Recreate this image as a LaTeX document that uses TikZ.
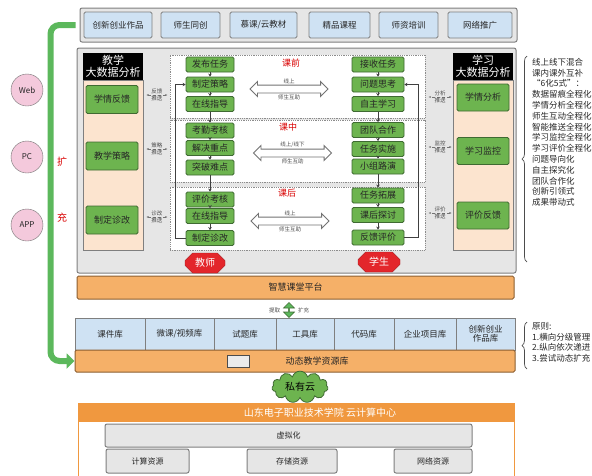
\documentclass[tikz,border=0pt]{standalone}
\usepackage{fontspec}
\setmainfont{Noto Sans CJK SC}
\usetikzlibrary{arrows.meta,calc,shapes.geometric,shapes.misc,shapes.arrows,shapes.symbols,decorations.pathreplacing}
\definecolor{panelgrey}{HTML}{E6E6E6}
\definecolor{edgegrey}{HTML}{7F7F7F}
\definecolor{tileblue}{HTML}{CFE2F3}
\definecolor{leafgreen}{HTML}{6DB44F}
\definecolor{leafedge}{HTML}{3F6A32}
\definecolor{peach}{HTML}{FCE4CF}
\definecolor{barorange}{HTML}{F5B068}
\definecolor{baredge}{HTML}{8C5E30}
\definecolor{headorange}{HTML}{F0983F}
\definecolor{hexred}{HTML}{E3262B}
\definecolor{dotpink}{HTML}{F4C9DC}
\definecolor{pipegreen}{HTML}{5CB85C}
\newcommand{\fs}[1]{\fontsize{#1}{#1}\selectfont}
\tikzset{
  pl/.style={align=center, inner sep=0pt, font=\fs{9}, text=black!85},
  pl frame/.style={pl, draw=edgegrey, fill=panelgrey, line width=1pt, rounded corners=2pt},
  pl tile/.style={pl, draw=edgegrey, fill=tileblue, line width=0.8pt, rounded corners=1.5pt, font=\fs{8.5}},
  pl leaf/.style={pl, draw=leafedge, fill=leafgreen, line width=0.8pt, rounded corners=1.5pt},
  pl task/.style={pl leaf, minimum height=15},
  pl stage/.style={draw=black!45, densely dotted, fill=white, line width=0.8pt},
  pl head/.style={pl, fill=black, text=white, font=\fontsize{11}{12.5}\selectfont},
  pl soft/.style={fill=peach, draw=edgegrey, line width=0.8pt},
  pl bar/.style={pl, draw=baredge, fill=barorange, line width=1pt, rounded corners=1.5pt},
  pl hex/.style={pl, chamfered rectangle, chamfered rectangle xsep=4pt, draw=hexred!70!black, fill=hexred, text=white, font=\fs{10}},
  pl hollow/.style={double arrow, draw=black!55, fill=white, line width=0.9pt, double arrow head extend=3.5pt, inner xsep=0pt, inner ysep=3.5pt},
  pl flow/.style={-{Stealth[length=3pt,width=3.5pt]}, line width=0.8pt, black!75},
  pl push/.style={{Stealth[length=2.5pt]}-{Stealth[length=2.5pt]}, densely dashed, line width=0.7pt, black!55},
  pl tiny/.style={font=\fs{5.5}, inner sep=0.8pt, text=black!70},
  pl red/.style={font=\fs{9}, text=red!85!black},
  pl note/.style={font=\fontsize{8.5}{10.8}\selectfont, align=left, inner sep=0pt, anchor=north west, text=black!85},
  pl brace/.style={decorate, decoration={brace, amplitude=5pt}, line width=0.7pt, black!70},
  pl pipe/.style={line width=6pt, pipegreen, rounded corners=9pt, -{Triangle[length=8pt,width=15pt]}},
}
\begin{document}
\begin{tikzpicture}[x=1pt, y=-1pt]
  \useasboundingbox (0,0) rectangle (592,475);
  % top: outcomes
  \node[pl frame, minimum width=437, minimum height=34] (top) at (298.5,25) {};
  \foreach \n/\x/\w/\t in {o1/118/68/创新创业作品, o2/190.5/59/师生同创, o3/263.5/67/{慕课/云教材}, o4/339.5/61/精品课程, o5/408.5/59/师资培训, o6/480/64/网络推广}
    \node[pl tile, minimum width=\w, minimum height=26] (\n) at (\x,25) {\t};
  % terminals and the growth pipe
  \foreach \n/\y/\t in {web/90/Web, pc/157/PC, app/225/APP}
    \node[pl, circle, draw=black!55, fill=dotpink, minimum size=32, font=\fs{8}] (\n) at (27,\y) {\t};
  \node[pl red, font=\fs{10}] (kuo) at (62,162) {扩};
  \node[pl red, font=\fs{10}] (chong) at (62,218) {充};
  % middle: smart classroom
  \node[pl frame, minimum width=439, minimum height=225] (room) at (296.5,160.5) {};
  \node[pl soft, minimum width=60, minimum height=170] (lcol) at (113,165) {};
  \node[pl head, minimum width=60, minimum height=27] (lhead) at (113,66.5) {教学\\大数据分析};
  \node[pl soft, minimum width=60, minimum height=170] (rcol) at (483,165) {};
  \node[pl head, minimum width=60, minimum height=27] (rhead) at (483,66.5) {学习\\大数据分析};
  \foreach \n/\y/\t in {fb/99.5/学情反馈, cl/156/教学策略, dg/220/制定诊改}
    \node[pl leaf, minimum width=52, minimum height=28] (\n) at (112,\y) {\t};
  \foreach \n/\y/\t in {an/97.5/学情分析, mo/151/学习监控, ev/215.5/评价反馈}
    \node[pl leaf, minimum width=52, minimum height=27] (\n) at (483,\y) {\t};
  \node[pl stage, minimum width=255, minimum height=63] (pre) at (297.5,86.5) {};
  \node[pl stage, minimum width=255, minimum height=62] (mid) at (297.5,151) {};
  \node[pl stage, minimum width=255, minimum height=63] (post) at (297.5,218.5) {};
  \node[pl red] (lpre) at (291,63) {课前};
  \node[pl red] (lmid) at (288,127) {课中};
  \node[pl red] (lpost) at (287,193) {课后};
  \foreach \n/\y/\t in {t1/64.5/发布任务, t2/84.5/制定策略, t3/104/在线指导, t4/130.5/考勤考核, t5/148/解决重点, t6/167.5/突破难点, t7/199.5/评价考核, t8/216/在线指导, t9/238/制定诊改}
    \node[pl task, minimum width=48] (\n) at (210,\y) {\t};
  \foreach \n/\y/\t in {s1/64.5/接收任务, s2/84.5/问题思考, s3/104/自主学习, s4/130/团队合作, s5/149/任务实施, s6/166.5/小组路演, s7/195.5/任务拓展, s8/215/课后探讨, s9/237.5/反馈评价}
    \node[pl task, minimum width=52] (\n) at (378,\y) {\t};
  \foreach \a/\b in {t1/t2,t2/t3,t3/t4,t4/t5,t5/t6,t6/t7,t7/t8,t8/t9,s1/s2,s2/s3,s3/s4,s4/s5,s5/s6,s6/s7,s7/s8,s8/s9}
    \draw[pl flow] (\a) -- (\b);
  \draw[pl flow] (t9.west) -- ++(-10,0) |- (t2.west);
  \draw[pl flow] (s9.east) -- ++(14,0) |- (s2.east);
  % online / offline exchange
  \foreach \n/\x/\y/\t in {qa1/289/89/线上, qa2/292.5/153/{线上/线下}, qa3/290/221/线上}
    \node[pl hollow, minimum height=78, label={[pl tiny]above:\t}, label={[pl tiny]below:师生互助}] (\n) at (\x,\y) {};
  % pushes between the analysis columns and the stages
  \foreach \n/\s/\a in {fb/4.5/反馈, cl/7/策略, dg/3/诊改}
    \draw[pl push] ([xshift=8pt, yshift=\s pt]\n.east) -- ++(21,0) node[pl tiny, midway, above] {\a} node[pl tiny, midway, below] {推送};
  \foreach \n/\s/\a in {an/0.5/分析, mo/4/监控, ev/2.5/评价}
    \draw[pl push] ([xshift=-5pt, yshift=\s pt]\n.west) -- ++(-23,0) node[pl tiny, midway, above] {\a} node[pl tiny, midway, below] {推送};
  \node[pl hex, minimum width=40, minimum height=20] (tea) at (205,263) {教师};
  \node[pl hex, minimum width=42, minimum height=20] (stu) at (379,262) {学生};
  \node[pl bar, minimum width=437, minimum height=23] (plat) at (295.5,287.5) {智慧课堂平台};
  % resources
  \node[double arrow, shape border rotate=90, draw=leafedge, fill=pipegreen, line width=0.6pt, double arrow head extend=2.5pt, inner sep=0pt, minimum height=15, minimum width=11] (pull) at (289,310) {};
  \node[pl tiny, anchor=east] (tq) at ([xshift=-8pt]pull.center) {提取};
  \node[pl tiny, anchor=west] (kc) at ([xshift=8pt]pull.center) {扩充};
  \foreach \n/\x/\w/\t in {r1/110/70/课件库, r2/179.5/69/{微课/视频库}, r3/245/62/试题库, r4/305/58/工具库, r5/364/60/代码库, r6/425/62/企业项目库, r7/485.5/59/{创新创业\\作品库}}
    \node[pl tile, rounded corners=0pt, minimum width=\w, minimum height=32] (\n) at (\x,334) {\t};
  \node[pl bar, minimum width=440, minimum height=22] (dyn) at (295,361) {};
  \node[pl] (dynt) at (317,361) {动态教学资源库};
  \node[cylinder, draw=black!70, fill=black!8, line width=0.8pt, minimum width=12, minimum height=22, aspect=1.2, inner sep=0pt] (disk) at (238,361) {};
  \draw[pl pipe] ([xshift=-4pt]top.west) -- ++(-25,0) |- (dyn.west);
  % notes on the right
  \node[pl note] (mode) at (532,58) {线上线下混合\\课内课外互补\\“6化5式”：\\数据留痕全程化\\学情分析全程化\\师生互动全程化\\智能推送全程化\\学习监控全程化\\学习评价全程化\\问题导向化\\自主探究化\\团队合作化\\创新引领式\\成果带动式};
  \draw[pl brace] (527,262) -- (527,56);
  \node[pl note] (rule) at (532,322) {原则:\\1.横向分级管理\\2.纵向依次递进\\3.尝试动态扩充};
  \draw[pl brace] (527,369) -- (527,322);
  % private cloud
  \node[cloud, cloud puffs=11, aspect=1.8, draw=leafedge, fill=leafgreen, line width=0.8pt, minimum width=56, minimum height=30, inner sep=0pt, font=\fs{10}] (priv) at (300,387) {私有云};
  \node[draw=headorange, fill=white, line width=1pt, minimum width=436, minimum height=76] (dc) at (296,441) {};
  \node[pl, fill=headorange, minimum width=436, minimum height=19] (dchead) at (296,412.5) {};
  \node[pl, text=white, font=\fs{10}] (dct) at (320,412.5) {山东电子职业技术学院~云计算中心};
  \node[pl frame, minimum width=367, minimum height=23, font=\fs{8}] (virt) at (288.5,435.5) {虚拟化};
  \foreach \n/\x/\w/\t in {cpu/147.5/83/计算资源, sto/292/90/存储资源, net/433/78/网络资源}
    \node[pl frame, minimum width=\w, minimum height=24, font=\fs{8}] (\n) at (\x,461) {\t};
\end{tikzpicture}
\end{document}
